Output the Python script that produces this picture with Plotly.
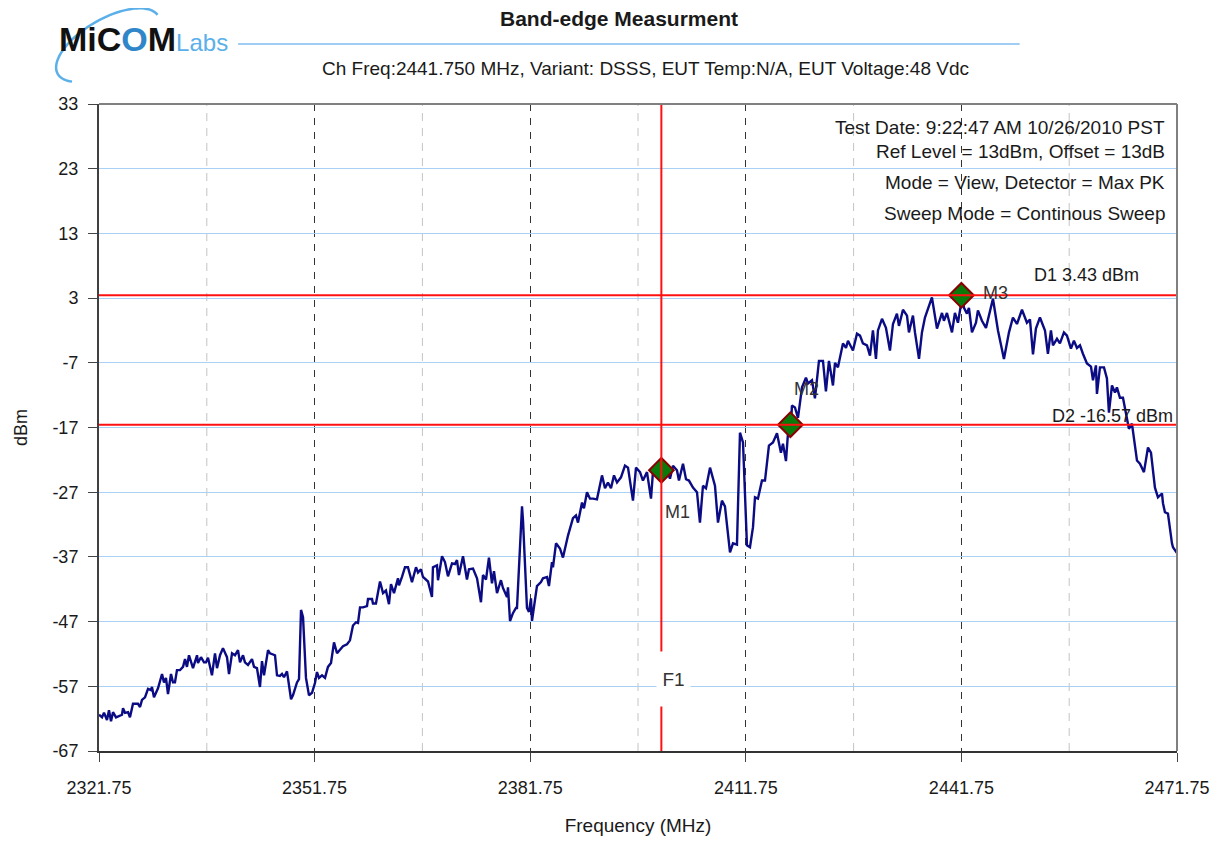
import numpy as np
import plotly.graph_objects as go

# swept trace
freq_mhz = [
    2321.75, 2322.17, 2322.45, 2322.86, 2323.14, 2323.42, 2323.70, 2324.12, 2324.95, 2325.09,
    2325.37, 2325.79, 2326.06, 2326.48, 2327.18, 2327.46, 2327.73, 2328.15, 2328.57, 2328.99,
    2329.12, 2329.40, 2329.96, 2330.52, 2330.79, 2331.07, 2331.35, 2331.77, 2332.05, 2332.32,
    2332.60, 2333.02, 2333.44, 2333.72, 2333.99, 2334.27, 2334.83, 2335.39, 2335.52, 2335.94,
    2336.36, 2336.64, 2336.92, 2337.47, 2337.89, 2338.17, 2338.59, 2339.00, 2339.56, 2339.84,
    2340.26, 2340.67, 2341.09, 2341.37, 2341.79, 2342.06, 2342.48, 2343.04, 2343.32, 2343.73,
    2344.15, 2344.43, 2344.71, 2345.27, 2345.54, 2346.24, 2346.52, 2346.93, 2347.21, 2347.49,
    2347.91, 2348.05, 2348.47, 2348.74, 2349.30, 2349.58, 2349.86, 2350.14, 2350.55, 2350.97,
    2351.39, 2351.80, 2352.08, 2352.36, 2352.78, 2353.20, 2353.61, 2354.03, 2354.45, 2354.87,
    2355.70, 2356.26, 2356.67, 2357.09, 2357.51, 2357.79, 2358.07, 2358.48, 2359.04, 2359.18,
    2359.74, 2359.87, 2360.29, 2360.85, 2361.27, 2361.68, 2362.10, 2362.38, 2362.80, 2363.35,
    2363.49, 2363.91, 2364.33, 2364.74, 2365.30, 2365.86, 2366.14, 2366.55, 2366.83, 2367.53,
    2368.08, 2368.22, 2368.78, 2368.92, 2369.48, 2369.89, 2370.31, 2370.87, 2371.28, 2371.56,
    2371.84, 2372.40, 2372.95, 2373.23, 2373.79, 2374.35, 2374.90, 2375.18, 2375.60, 2376.01,
    2376.43, 2376.71, 2377.13, 2377.68, 2377.96, 2378.52, 2378.66, 2378.94, 2379.35, 2379.77,
    2379.91, 2380.61, 2380.75, 2381.30, 2381.58, 2381.86, 2382.00, 2382.69, 2383.25, 2383.53,
    2384.09, 2384.36, 2384.78, 2384.92, 2385.34, 2385.89, 2386.31, 2387.01, 2387.70, 2388.12,
    2388.40, 2388.96, 2389.23, 2389.65, 2390.07, 2390.49, 2391.04, 2391.74, 2392.16, 2392.57,
    2392.99, 2393.41, 2393.83, 2394.38, 2394.94, 2395.36, 2396.05, 2396.47, 2397.03, 2397.44,
    2398.00, 2398.56, 2398.83, 2399.39, 2400.09, 2400.64, 2401.20, 2401.62, 2402.17, 2402.45,
    2403.01, 2403.43, 2403.84, 2404.40, 2404.96, 2405.37, 2405.79, 2406.21, 2406.77, 2407.46,
    2407.88, 2408.43, 2408.85, 2409.55, 2409.97, 2410.52, 2410.94, 2411.36, 2411.91, 2412.33,
    2412.75, 2413.03, 2413.44, 2414.00, 2414.42, 2414.97, 2415.53, 2416.09, 2416.64, 2416.92,
    2417.34, 2417.62, 2418.03, 2418.17, 2418.59, 2419.01, 2419.57, 2420.12, 2420.40, 2420.96,
    2421.37, 2421.93, 2422.49, 2422.90, 2423.32, 2423.88, 2424.16, 2424.57, 2425.27, 2425.69,
    2425.97, 2426.66, 2427.22, 2427.64, 2428.05, 2428.61, 2429.03, 2429.44, 2429.86, 2430.14,
    2430.70, 2431.25, 2431.81, 2432.23, 2432.78, 2433.06, 2433.62, 2434.18, 2434.45, 2435.01,
    2435.29, 2435.85, 2436.26, 2436.68, 2437.65, 2438.35, 2439.05, 2439.32, 2439.74, 2440.44,
    2440.85, 2441.27, 2441.83, 2442.11, 2442.52, 2442.80, 2443.22, 2443.78, 2444.05, 2444.61,
    2445.17, 2446.14, 2446.84, 2447.67, 2448.37, 2448.92, 2449.48, 2450.18, 2450.87, 2451.29,
    2451.71, 2452.12, 2452.68, 2453.38, 2453.79, 2454.21, 2454.49, 2455.05, 2455.46, 2456.02,
    2456.44, 2456.99, 2457.41, 2457.83, 2458.25, 2458.66, 2459.22, 2459.78, 2460.06, 2460.47,
    2460.61, 2461.03, 2461.59, 2462.00, 2462.28, 2462.70, 2463.12, 2463.39, 2463.81, 2464.23,
    2464.79, 2465.06, 2465.48, 2465.76, 2466.18, 2466.59, 2467.15, 2467.71, 2468.13, 2468.68,
    2469.10, 2469.66, 2469.80, 2470.07, 2470.49, 2471.05, 2471.19, 2471.75,
]
level_dbm = [
    -61.4, -61.8, -61.1, -62.2, -60.7, -62.4, -61.0, -61.8, -61.4, -60.4,
    -61.1, -61.0, -61.8, -59.7, -59.7, -60.2, -59.1, -58.7, -57.4, -57.6,
    -57.1, -58.7, -57.3, -55.1, -56.4, -55.7, -58.2, -55.1, -56.4, -56.4,
    -54.5, -54.5, -54.0, -52.8, -54.0, -52.2, -54.2, -52.2, -53.4, -52.5,
    -53.3, -53.3, -52.6, -55.3, -51.9, -54.2, -52.2, -51.1, -52.5, -55.1,
    -51.9, -52.2, -51.4, -53.3, -52.2, -53.3, -53.7, -52.8, -54.0, -54.2,
    -57.1, -53.1, -55.3, -51.4, -51.9, -52.2, -55.3, -55.4, -55.1, -55.6,
    -54.7, -56.0, -59.0, -58.4, -56.4, -55.9, -45.2, -46.3, -55.7, -58.4,
    -58.0, -56.5, -54.8, -55.7, -55.3, -55.7, -54.0, -53.4, -50.2, -51.9,
    -50.8, -50.5, -49.9, -47.6, -47.1, -47.2, -44.8, -44.8, -44.6, -43.5,
    -43.5, -44.2, -44.2, -40.8, -42.6, -42.2, -44.3, -41.2, -42.6, -40.3,
    -41.4, -40.1, -38.6, -38.6, -40.9, -38.6, -39.4, -38.9, -40.1, -40.8,
    -43.2, -38.6, -38.3, -40.6, -36.9, -37.8, -40.0, -38.0, -38.1, -37.5,
    -39.8, -36.9, -40.5, -38.9, -38.8, -40.3, -44.0, -39.8, -40.5, -37.1,
    -41.1, -39.2, -42.6, -40.6, -41.8, -43.2, -41.7, -46.9, -45.7, -44.9,
    -44.9, -29.2, -31.4, -44.9, -45.5, -43.4, -46.9, -41.5, -40.9, -40.3,
    -40.1, -41.5, -37.8, -38.6, -34.9, -35.7, -37.1, -33.7, -31.0, -30.6,
    -31.7, -28.6, -29.5, -27.0, -28.0, -28.0, -28.1, -24.4, -26.4, -25.5,
    -26.4, -24.4, -25.5, -24.7, -22.9, -23.2, -28.3, -23.2, -23.9, -25.2,
    -23.9, -28.0, -23.9, -23.0, -23.8, -23.3, -24.9, -22.9, -23.6, -25.2,
    -22.6, -25.0, -25.2, -26.3, -27.0, -31.7, -26.0, -26.4, -23.2, -26.0,
    -31.7, -28.3, -29.2, -36.3, -34.9, -35.1, -17.8, -19.3, -35.2, -35.5,
    -32.4, -27.8, -28.0, -25.2, -25.2, -19.8, -19.3, -17.9, -20.9, -19.5,
    -22.2, -17.9, -17.0, -13.6, -13.9, -15.5, -10.8, -9.3, -10.2, -9.7,
    -12.5, -6.7, -6.7, -11.4, -6.7, -10.5, -7.0, -7.7, -4.0, -4.7,
    -3.6, -5.1, -2.5, -2.8, -4.0, -4.3, -5.9, -2.0, -6.4, -2.0,
    -0.2, -1.6, -5.1, -1.0, 0.6, -1.3, 1.2, 0.3, -2.3, 0.3,
    -2.3, -6.4, -2.3, 0.0, 3.1, -1.7, 0.7, -0.5, 0.7, -2.3,
    0.7, -0.8, 2.9, 1.5, 0.6, 1.5, -2.3, -0.8, 1.1, -0.5,
    -1.6, 2.9, -2.0, -6.4, -2.3, 0.0, -1.0, 1.2, -0.8, -0.3,
    -5.7, -1.7, 0.0, -2.0, -5.6, -2.0, -4.3, -3.3, -4.0, -2.3,
    -2.8, -4.8, -3.6, -4.7, -4.3, -5.6, -7.1, -7.6, -9.7, -7.4,
    -11.8, -7.7, -7.7, -9.4, -14.7, -10.5, -11.6, -10.8, -12.4, -12.4,
    -15.9, -17.2, -16.4, -19.0, -22.1, -22.6, -23.9, -20.1, -20.9, -26.3,
    -27.8, -27.2, -28.7, -30.1, -30.3, -34.9, -35.5, -36.4,
]

# markers and limit lines
marker_names = ["M1", "M2", "M3"]
marker_freq = [2400.00, 2417.95, 2441.75]
marker_level = [-23.6, -16.57, 3.43]
marker_label_shift = [(16, -42), (16, 36), (34, 2)]

d_lines = [3.43, -16.57]
d_labels = ["D1 3.43 dBm", "D2 -16.57 dBm"]
f1_freq = 2400.0

x_ticks = [2321.75, 2351.75, 2381.75, 2411.75, 2441.75, 2471.75]
x_minor = [2336.75, 2366.75, 2396.75, 2426.75, 2456.75]
y_ticks = [33, 23, 13, 3, -7, -17, -27, -37, -47, -57, -67]

info_lines = [
    "Test Date: 9:22:47 AM 10/26/2010 PST",
    "Ref Level = 13dBm, Offset = 13dB",
    "Mode = View, Detector = Max PK",
    "Sweep Mode = Continous Sweep",
]
info_y = [0.964, 0.926, 0.879, 0.831]

FONT = "Liberation Sans, Arial, sans-serif"
TXT = "#1a1a1a"

fig = go.Figure()

# minor dashed gridlines
for xv in x_minor:
    fig.add_shape(type="line", xref="x", yref="paper", x0=xv, x1=xv, y0=0, y1=1,
                  line=dict(color="#c4c4c4", width=1, dash="8px,7px"), layer="below")

fig.add_trace(go.Scatter(
    x=freq_mhz, y=level_dbm, mode="lines",
    line=dict(color="#0b0b84", width=2.4),
    hoverinfo="skip", showlegend=False,
))

# red limit lines
for lvl in d_lines:
    fig.add_shape(type="line", xref="x", yref="y", x0=x_ticks[0], x1=x_ticks[-1],
                  y0=lvl, y1=lvl, line=dict(color="#ff1010", width=2), layer="above")
fig.add_shape(type="line", xref="x", yref="paper", x0=f1_freq, x1=f1_freq,
              y0=0, y1=1, line=dict(color="#ff1010", width=2), layer="above")

# grey top / right frame
fig.add_shape(type="line", xref="paper", yref="paper", x0=0, x1=1, y0=1, y1=1,
              line=dict(color="#808080", width=2), layer="above")
fig.add_shape(type="line", xref="paper", yref="paper", x0=1, x1=1, y0=0, y1=1,
              line=dict(color="#808080", width=2), layer="above")

fig.add_trace(go.Scatter(
    x=marker_freq, y=marker_level, mode="markers",
    marker=dict(symbol="diamond", size=19, color="#0a7a0a",
                line=dict(color="#8b0000", width=2)),
    hoverinfo="skip", showlegend=False,
))

for name, fx, lv, (dx, dy) in zip(marker_names, marker_freq, marker_level, marker_label_shift):
    fig.add_annotation(x=fx, y=lv, text=name, showarrow=False, xshift=dx, yshift=dy,
                       font=dict(size=18, color="#333", family=FONT))

fig.add_annotation(x=x_ticks[-1], y=d_lines[0], text=d_labels[0], showarrow=False,
                   xanchor="right", xshift=-36, yshift=20,
                   font=dict(size=18, color=TXT, family=FONT))
fig.add_annotation(x=x_ticks[-1], y=d_lines[1], text=d_labels[1], showarrow=False,
                   xanchor="right", xshift=-2, yshift=9,
                   font=dict(size=18, color=TXT, family=FONT))

# F1 label box cutting the vertical line
fig.add_annotation(x=f1_freq, y=-56.3, text="F1", showarrow=False,
                   xanchor="left", xshift=-5, width=31, height=52, yshift=3,
                   bgcolor="white", font=dict(size=19, color="#333", family=FONT))

# info block
for line, yp in zip(info_lines, info_y):
    fig.add_annotation(xref="paper", yref="paper", x=0.991, y=yp, text=line,
                       showarrow=False, xanchor="right", yanchor="middle",
                       font=dict(size=19, color=TXT, family=FONT))

# headers
fig.add_annotation(xref="paper", yref="paper", x=0.482, y=1.1315,
                   text="<b>Band-edge Measurment</b>", showarrow=False,
                   xanchor="center", yanchor="middle",
                   font=dict(size=21, color=TXT, family=FONT))
fig.add_annotation(xref="paper", yref="paper", x=0.5065, y=1.0556,
                   text="Ch Freq:2441.750 MHz, Variant: DSSS, EUT Temp:N/A, EUT Voltage:48 Vdc",
                   showarrow=False, xanchor="center", yanchor="middle",
                   font=dict(size=19, color=TXT, family=FONT))
fig.add_shape(type="line", xref="paper", yref="paper", x0=0.129, x1=0.854,
              y0=1.0927, y1=1.0927, line=dict(color="#9fcdf3", width=2))

# logo: text plus a tilted elliptical swoosh
fig.add_annotation(xref="paper", yref="paper", x=-0.039, y=1.1, xanchor="left",
                   yanchor="middle",
                   text="<b>MiC<span style='color:#2f86c8'>O</span>M</b>"
                        "<span style='color:#5bb0ea;font-size:24px'>Labs</span>",
                   showarrow=False, font=dict(size=34, color="#111", family=FONT))
t = np.linspace(0.05, np.pi + 0.55, 60)
ang = np.radians(30)
ex = 9 + 58 * np.cos(t) * np.cos(ang) - 26 * np.sin(t) * np.sin(ang)
ey = 59 + 58 * np.cos(t) * np.sin(ang) + 26 * np.sin(t) * np.cos(ang)
swoosh = "M " + " L ".join(f"{a:.1f} {b:.1f}" for a, b in zip(ex, ey))
fig.add_shape(type="path", xref="paper", yref="paper", xsizemode="pixel",
              ysizemode="pixel", xanchor=0, yanchor=1, path=swoosh,
              line=dict(color="#5bb0ea", width=2.5))

fig.update_xaxes(
    range=[x_ticks[0], x_ticks[-1]], tickvals=x_ticks,
    ticktext=[f"{v:.2f}" for v in x_ticks],
    showgrid=True, gridcolor="#333", griddash="7px,7px", gridwidth=1,
    showline=True, linecolor="#333", linewidth=2,
    ticks="outside", ticklen=9, tickcolor="#444", ticklabelstandoff=10,
    zeroline=False, automargin=False,
    tickfont=dict(size=18, color=TXT, family=FONT),
    title=dict(text="Frequency (MHz)", font=dict(size=19, color=TXT, family=FONT), standoff=22),
)
fig.update_yaxes(
    range=[y_ticks[-1], y_ticks[0]], tickvals=y_ticks,
    ticktext=[str(v) for v in y_ticks],
    showgrid=True, gridcolor="#a9d1f5", gridwidth=1,
    showline=True, linecolor="#404040", linewidth=2,
    ticks="outside", ticklen=9, tickcolor="#444", ticklabelstandoff=6,
    zeroline=False, automargin=False,
    tickfont=dict(size=18, color=TXT, family=FONT),
    title=dict(text="dBm", font=dict(size=18, color=TXT, family=FONT), standoff=20),
)

# the page adds an 8px body margin, so margins are 8px smaller on top/left
fig.update_layout(
    width=1218, height=841,
    margin=dict(l=91, r=49, t=96, b=98),
    plot_bgcolor="white", paper_bgcolor="white",
    font=dict(family=FONT, color=TXT),
)

fig.write_html("out.html")
